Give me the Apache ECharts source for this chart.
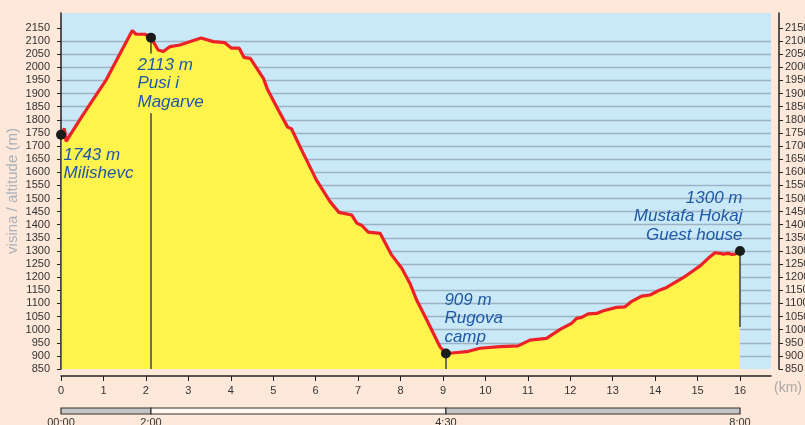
<!DOCTYPE html>
<html>
<head>
<meta charset="utf-8">
<script src="https://cdn.jsdelivr.net/npm/echarts@6/dist/echarts.min.js"></script>
<style>
  html, body { margin: 0; padding: 0; background: #fde8d9; }
  #main { width: 805px; height: 425px; }
</style>
</head>
<body>
<div id="main"></div>
<script>
// profil trase (km, m)
var profileKm = [0, 0.08, 0.12, 0.49, 0.88, 1.05, 1.27, 1.68, 1.77, 1.98, 2.12, 2.29, 2.41, 2.57, 2.8, 3.3, 3.59, 3.86, 4.02, 4.2, 4.31, 4.46, 4.77, 4.87, 5.08, 5.34, 5.43, 5.66, 6.02, 6.34, 6.55, 6.85, 6.97, 7.09, 7.24, 7.52, 7.79, 8.03, 8.22, 8.38, 8.62, 8.93, 9.07, 9.28, 9.56, 9.87, 10.34, 10.77, 11.05, 11.44, 11.76, 12.03, 12.15, 12.27, 12.42, 12.62, 12.78, 13.09, 13.29, 13.45, 13.68, 13.72, 13.88, 14.07, 14.27, 14.66, 15.06, 15.25, 15.41, 15.53, 15.6, 15.72, 15.8, 15.88, 16]
var profileAlt = [1743, 1767, 1718, 1812, 1907, 1948, 2015, 2140, 2126, 2126, 2113, 2066, 2060, 2079, 2085, 2112, 2098, 2094, 2073, 2073, 2038, 2034, 1958, 1914, 1850, 1772, 1766, 1688, 1570, 1488, 1447, 1437, 1406, 1397, 1372, 1367, 1285, 1234, 1177, 1113, 1037, 935, 909, 912, 916, 929, 935, 938, 960, 967, 1001, 1024, 1043, 1047, 1060, 1062, 1072, 1085, 1087, 1108, 1128, 1135, 1132, 1148, 1161, 1198, 1243, 1272, 1293, 1291, 1288, 1291, 1287, 1288, 1300]

// tocke na trasi
var stopKm = [0, 2.12, 9.07, 16]
var stopAlt = [1743, 2113, 909, 1300]
var stopNames = ['Milishevc', 'Pusi i\nMagarve', 'Rugova\ncamp', 'Mustafa Hokaj\nGuest house']

// okomite linije [km, od, do]
var dropLines = [[0, 1743, 850], [2.12, 2113, 2053], [2.12, 1825, 850], [9.07, 909, 850], [16, 1300, 1010]]

// vrijeme hoda
var timeKm = [0, 2.12, 9.07, 16]
var timeLabels = ['00:00', '2:00', '4:30', '8:00']
var timeSegments = [[0, 2.12], [2.12, 9.07], [9.07, 16]]
var timeColors = ['#c4c4c4', '#fff7f0', '#c4c4c4']

var kmTicks = [0, 1, 2, 3, 4, 5, 6, 7, 8, 9, 10, 11, 12, 13, 14, 15, 16]
var altTicks = [850, 900, 950, 1000, 1050, 1100, 1150, 1200, 1250, 1300, 1350, 1400, 1450, 1500, 1550, 1600, 1650, 1700, 1750, 1800, 1850, 1900, 1950, 2000, 2050, 2100, 2150]

var font = 'Liberation Sans'
var gridColors = altTicks.slice(1).map(function () { return '#9db3c3' })
gridColors.push('rgba(0,0,0,0)')

function plain (v) { return String(v) }

var chart = echarts.init(document.getElementById('main'))

chart.setOption({
  animation: false,
  backgroundColor: '#fde8d9',
  grid: [
    { left: 61, right: 34, top: 13, bottom: 56, show: true, backgroundColor: '#c9e9f9', borderWidth: 0, outerBoundsMode: 'none', containLabel: false },
    { left: 61, right: 34, top: 408, height: 6, outerBoundsMode: 'none', containLabel: false }
  ],
  // oznaka jedinice na x osi
  graphic: [
    { type: 'text', left: 774, top: 381, style: { text: '(km)', fill: '#a8a8a8', fontSize: 14, fontFamily: font } }
  ],
  xAxis: [
    {
      type: 'value', gridIndex: 0, min: 0, max: 16.73, offset: 7,
      axisLine: { lineStyle: { color: '#222', width: 1.5 } },
      axisTick: { customValues: kmTicks, length: 5, lineStyle: { color: '#222' } },
      axisLabel: { customValues: kmTicks, margin: 9, fontSize: 11, color: '#333', fontFamily: font, formatter: plain },
      splitLine: { show: false }
    },
    {
      type: 'value', gridIndex: 1, min: 0, max: 16.73,
      axisLine: { show: false },
      axisTick: { show: false },
      splitLine: { show: false },
      axisLabel: {
        customValues: timeKm, margin: 3, fontSize: 11, color: '#333', fontFamily: font,
        formatter: function (v) { return timeLabels[timeKm.indexOf(v)] }
      }
    }
  ],
  yAxis: [
    {
      type: 'value', gridIndex: 0, min: 850, max: 2207, interval: 50, position: 'left', offset: 8,
      axisLine: { show: true, lineStyle: { color: '#222', width: 1.5 } },
      axisTick: { show: true, customValues: altTicks, length: 4, lineStyle: { color: '#222' } },
      axisLabel: { customValues: altTicks, margin: 3, fontSize: 11, color: '#333', fontFamily: font, formatter: plain },
      splitLine: { show: true, showMinLine: false, showMaxLine: false, lineStyle: { color: gridColors, width: 1.3 } },
      name: 'visina / altitude (m)', nameLocation: 'middle', nameGap: 33, nameMoveOverlap: false,
      nameTextStyle: { color: '#aab0b8', fontSize: 15, fontFamily: font }
    },
    {
      type: 'value', gridIndex: 0, min: 850, max: 2207, interval: 50, position: 'right', offset: 8,
      axisLine: { show: true, lineStyle: { color: '#222', width: 1.5 } },
      axisTick: { show: true, customValues: altTicks, length: 4, lineStyle: { color: '#222' } },
      axisLabel: { customValues: altTicks, margin: 6, fontSize: 11, color: '#333', fontFamily: font, formatter: plain },
      splitLine: { show: false }
    },
    { type: 'value', gridIndex: 1, min: 0, max: 1, show: false }
  ],
  series: [
    {
      name: 'profil',
      type: 'line',
      xAxisIndex: 0, yAxisIndex: 0,
      data: profileKm.map(function (k, i) { return [k, profileAlt[i]] }),
      showSymbol: false,
      lineStyle: { color: '#ec2227', width: 3.2 },
      areaStyle: { color: '#fff34d', opacity: 1, origin: 'start' },
      z: 2,
      markLine: {
        silent: true, symbol: 'none', animation: false,
        label: { show: false },
        lineStyle: { color: '#444', width: 1.5, type: 'solid' },
        data: dropLines.map(function (d) { return [{ coord: [d[0], d[1]] }, { coord: [d[0], d[2]] }] })
      }
    },
    {
      name: 'tocke',
      type: 'scatter',
      xAxisIndex: 0, yAxisIndex: 0,
      symbolSize: 10,
      itemStyle: { color: '#1b1b1b', opacity: 1 },
      z: 5,
      label: {
        show: true,
        color: '#1f58a6', fontStyle: 'italic', fontSize: 17, lineHeight: 18.5, fontFamily: font,
        formatter: function (p) { return p.value[1] + ' m\n' + stopNames[p.dataIndex] }
      },
      data: [
        { value: [stopKm[0], stopAlt[0]], label: { position: [7.5, 16] } },
        { value: [stopKm[1], stopAlt[1]], label: { position: [-8.5, 23] } },
        { value: [stopKm[2], stopAlt[2]], label: { position: [3.5, -58] } },
        { value: [stopKm[3], stopAlt[3]], label: { position: [7.5, -57], align: 'right' } }
      ]
    },
    {
      name: 'vrijeme',
      type: 'custom',
      xAxisIndex: 1, yAxisIndex: 2,
      data: timeSegments,
      renderItem: function (params, api) {
        var p0 = api.coord([api.value(0), 0])
        var p1 = api.coord([api.value(1), 1])
        return {
          type: 'rect',
          shape: { x: p0[0], y: p1[1], width: p1[0] - p0[0], height: p0[1] - p1[1] },
          style: { fill: timeColors[params.dataIndex], stroke: '#333', lineWidth: 1.2 }
        }
      }
    }
  ]
})
</script>
</body>
</html>
